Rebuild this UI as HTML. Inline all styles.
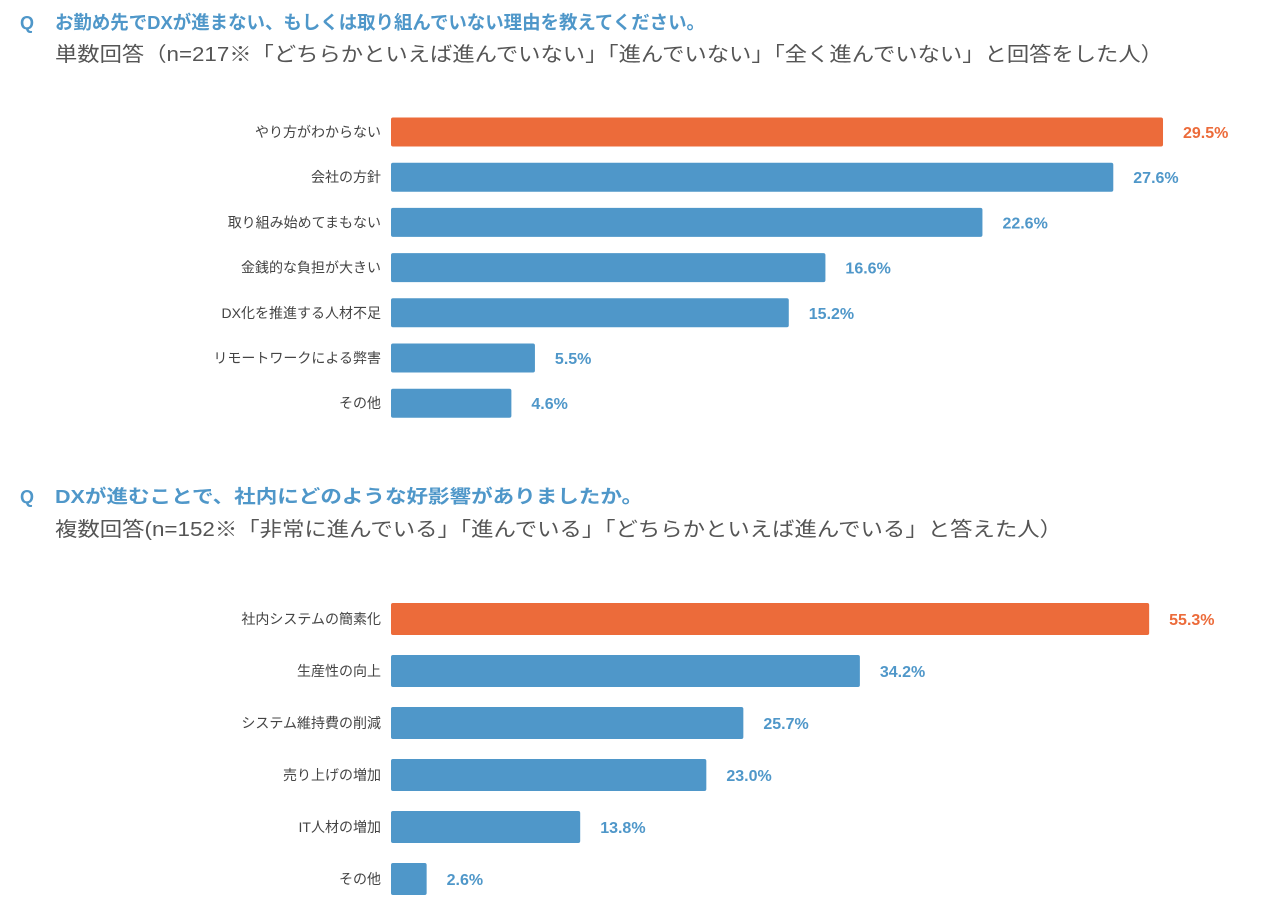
<!DOCTYPE html>
<html><head><meta charset="utf-8"><style>
body{margin:0;background:#fff;width:1280px;height:919px;overflow:hidden}
svg{font-family:"Liberation Sans","Noto Sans CJK JP",sans-serif}
</style></head><body>
<svg id="c" width="1280" height="919">
<g>
<text x="20" y="29" font-size="18" font-weight="bold" fill="#4f97c9">Q</text>
<text x="55" y="29" font-size="18.5" font-weight="bold" fill="#4f97c9" textLength="650" lengthAdjust="spacingAndGlyphs">お勤め先でDXが進まない、もしくは取り組んでいない理由を教えてください。</text>
<text x="55" y="61" font-size="20" fill="#555" textLength="1108" lengthAdjust="spacingAndGlyphs">単数回答（n=217※「どちらかといえば進んでいない」「進んでいない」「全く進んでいない」と回答をした人）</text>
</g>
<g>
<text x="20" y="503" font-size="18" font-weight="bold" fill="#4f97c9">Q</text>
<text x="55" y="503" font-size="18.5" font-weight="bold" fill="#4f97c9" textLength="588" lengthAdjust="spacingAndGlyphs">DXが進むことで、社内にどのような好影響がありましたか。</text>
<text x="55" y="536" font-size="20" fill="#555" textLength="1007" lengthAdjust="spacingAndGlyphs">複数回答(n=152※「非常に進んでいる」「進んでいる」「どちらかといえば進んでいる」と答えた人）</text>
</g>
</svg>
<script>
const cats1=["やり方がわからない","会社の方針","取り組み始めてまもない","金銭的な負担が大きい","DX化を推進する人材不足","リモートワークによる弊害","その他"];
const vals1=[29.5,27.6,22.6,16.6,15.2,5.5,4.6];
const cats2=["社内システムの簡素化","生産性の向上","システム維持費の削減","売り上げの増加","IT人材の増加","その他"];
const vals2=[55.3,34.2,25.7,23.0,13.8,2.6];
const NS="http://www.w3.org/2000/svg";
const svg=document.getElementById('c');
function draw(cats,vals,y0,pitch,bh,scale,name){
  const g=document.createElementNS(NS,'g');
  
  
  svg.appendChild(g);
  const x=v=>v*scale;
  cats.forEach((c,i)=>{
    const cy=y0+i*pitch;const col=i===0?'#ec6b3a':'#4f97c9';
    const t=document.createElementNS(NS,'text');
    
    
    t.setAttribute('x',381);t.setAttribute('y',cy+5);t.setAttribute('text-anchor','end');
    t.setAttribute('font-size','14');t.setAttribute('fill','#444');t.textContent=c;g.appendChild(t);
    const r=document.createElementNS(NS,'rect');
    
    
    r.setAttribute('x',391);r.setAttribute('y',cy-bh/2);r.setAttribute('width',x(vals[i]));r.setAttribute('height',bh);
    r.setAttribute('rx',2);r.setAttribute('fill',col);g.appendChild(r);
    const v=document.createElementNS(NS,'text');
    
    
    v.setAttribute('x',391+x(vals[i])+20);v.setAttribute('y',cy+6);v.setAttribute('font-size','16');
    v.setAttribute('font-weight','bold');v.setAttribute('fill',col);v.textContent=vals[i].toFixed(1)+'%';g.appendChild(v);
  });
}
draw(cats1,vals1,132,45.2,29,26.17,'chart1-bars');
draw(cats2,vals2,619,52,32,13.71,'chart2-bars');
</script>
</body></html>
